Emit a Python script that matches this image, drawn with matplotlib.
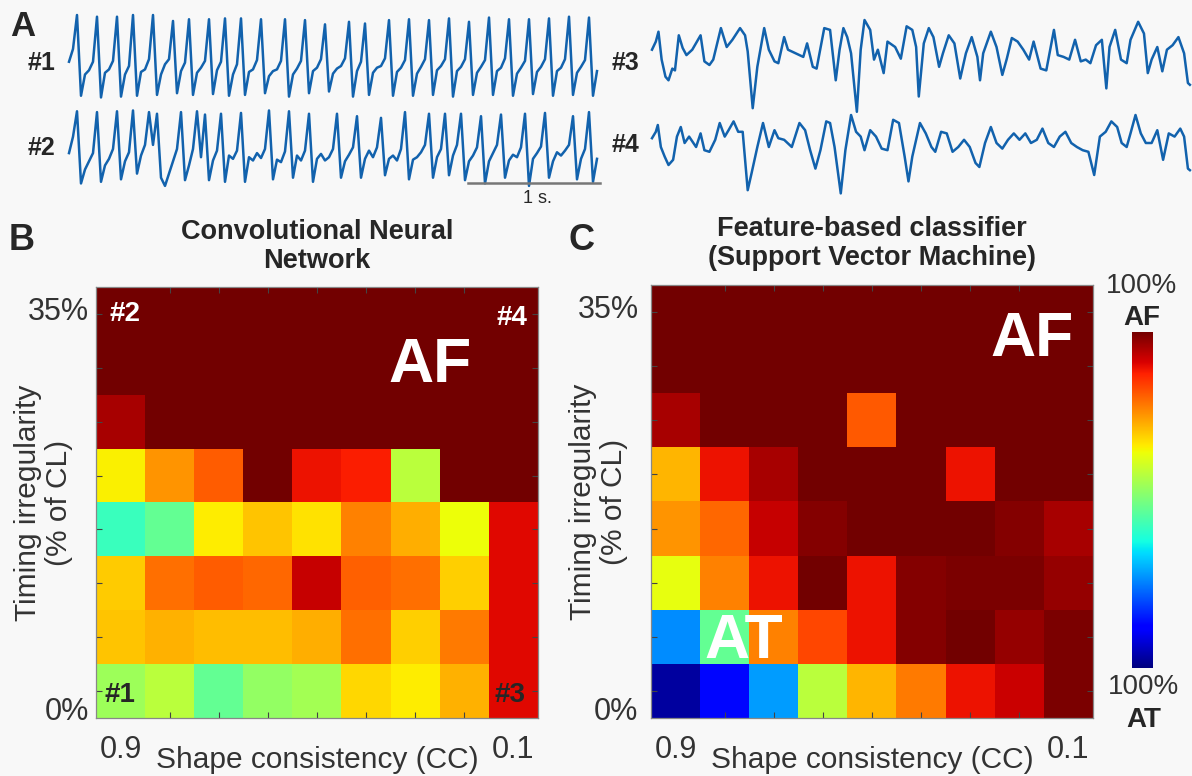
import numpy as np
import matplotlib.pyplot as plt
from matplotlib.colors import ListedColormap

plt.rcParams['font.family'] = ['Liberation Sans', 'DejaVu Sans']

# ---- data -------------------------------------------------------------
# panel A traces (arbitrary amplitude units, 0 = trough, 10 = peak)
dt = 1000 / 33  # ms between samples of #1 and #2
trace1 = [4.5, 6, 10, 0.5, 3.0, 3.5, 4.5, 9.8, 0.3, 3.2, 3.6, 4.6, 9.8, 0.4, 3.0, 4.0,
          10, 0.5, 3.3, 3.6, 4.8, 10, 0.6, 3.0, 4.2, 4.8, 9.3, 0.8, 3.4, 4.4, 9.5, 0.6,
          3.2, 3.8, 4.6, 9.5, 0.7, 3.5, 4.5, 9.6, 0.5, 3.0, 4.2, 9.6, 0.6, 3.3, 3.6, 4.7,
          9.5, 0.8, 2.8, 3.4, 3.6, 4.6, 9.5, 0.4, 3.0, 3.7, 4.6, 9.4, 0.8, 3.4, 3.8, 4.8,
          8.9, 1.0, 3.1, 3.7, 4.0, 4.9, 9.2, 0.4, 3.4, 4.5, 9.0, 0.6, 3.2, 3.8, 4.0, 4.9,
          9.4, 0.5, 3.3, 3.8, 4.7, 9.5, 0.5, 3.1, 3.9, 4.8, 9.4, 0.6, 3.5, 4.0, 4.8, 9.6,
          0.4, 3.4, 3.9, 4.8, 9.2, 0.6, 3.2, 3.9, 4.7, 9.7, 0.6, 3.4, 3.8, 4.9, 9.5, 0.5,
          3.1, 3.8, 4.6, 9.5, 0.7, 3.3, 3.9, 4.8, 9.6, 0.5, 3.4, 3.8, 4.8, 9.8, 0.6, 3.2,
          3.9, 4.7, 9.7, 0.5, 3.4]
trace2 = [4.5, 6.5, 9.6, 0.8, 2.5, 3.5, 4.5, 9.5, 1.0, 3.0, 3.8, 5.0, 9.6, 1.3, 3.5, 4.6,
          9.7, 2.0, 4.2, 5.5, 9.5, 5.5, 9.3, 1.5, 0.5, 2.0, 3.5, 5.0, 9.5, 1.2, 3.0, 5.0,
          9.6, 4.0, 9.2, 1.2, 3.6, 4.8, 9.3, 1.0, 4.2, 3.8, 4.8, 9.4, 1.0, 4.0, 3.6, 4.5,
          3.9, 5.0, 9.7, 1.3, 3.7, 3.4, 4.7, 9.6, 1.5, 4.2, 3.6, 4.8, 9.3, 1.0, 3.8, 4.4,
          3.6, 4.0, 5.0, 9.3, 1.5, 3.5, 4.3, 5.2, 9.0, 1.5, 3.8, 4.8, 4.0, 5.2, 8.8, 1.8,
          3.8, 4.2, 3.6, 5.0, 9.5, 1.3, 3.7, 4.0, 4.6, 5.5, 9.3, 1.5, 4.0, 5.0, 9.3, 1.8,
          4.2, 5.5, 9.3, 1.2, 3.5, 4.2, 5.2, 9.0, 0.8, 3.5, 4.5, 5.5, 9.2, 1.5, 3.6, 4.3,
          4.0, 5.2, 9.3, 0.5, 3.8, 4.5, 5.3, 9.4, 1.5, 3.5, 4.6, 4.2, 4.8, 5.5, 9.0, 1.3,
          3.8, 5.0, 9.5, 1.0, 3.8]
trace3_t = [0, 29, 49, 73, 102, 125, 154, 174, 203, 232, 261, 305, 368, 397, 435, 464,
            522, 566, 609, 667, 705, 725, 763, 798, 850, 885, 928, 957, 1001, 1030, 1088,
            1146, 1175, 1218, 1247, 1305, 1349, 1392, 1421, 1450, 1479, 1508, 1552, 1581,
            1610, 1653, 1682, 1711, 1755, 1784, 1842, 1885, 1929, 1972, 2001, 2021, 2059,
            2097, 2132, 2175, 2204, 2248, 2291, 2335, 2378, 2422, 2465, 2485, 2509, 2567,
            2610, 2654, 2688, 2726, 2770, 2813, 2857, 2891, 2944, 2987, 3045, 3074, 3118,
            3161, 3205, 3248, 3286, 3321, 3364, 3408, 3442, 3466, 3509, 3553, 3596, 3625,
            3683, 3727, 3756, 3785, 3828, 3866, 3901, 3944, 3988, 4031, 4060, 4075]
trace3_v = [6.7, 7.6, 8.7, 5.6, 3.7, 3.3, 4.6, 4.4, 8.3, 6.9, 6.1, 6.7, 8.3, 5.4, 5.0, 5.6,
            9.1, 7.0, 7.8, 9.1, 8.3, 6.5, 0.2, 4.8, 9.1, 6.7, 5.4, 5.2, 8.1, 6.7, 6.3,
            5.9, 7.4, 4.8, 4.6, 9.1, 8.9, 3.3, 6.7, 9.1, 8.1, 6.3, -0.2, 6.7,
            10.0, 8.9, 5.6, 6.7, 4.1, 7.6, 7.0, 5.7, 9.3, 8.9, 7.0, 1.5, 7.4,
            9.1, 8.1, 4.8, 6.3, 8.3, 7.4, 3.5, 6.3, 8.1, 5.9, 3.3, 6.3, 8.7,
            7.0, 3.9, 5.7, 8.0, 7.6, 6.7, 5.6, 7.6, 4.6, 4.4, 8.9, 6.1, 5.9,
            5.6, 7.8, 5.4, 5.6, 5.2, 7.2, 7.8, 2.4, 7.0, 8.9, 5.6, 5.2, 7.8,
            9.8, 8.5, 4.1, 5.6, 7.0, 4.3, 6.7, 7.2, 8.1, 6.3, 3.0, 2.8]
trace4_t = [0, 29, 44, 67, 96, 125, 160, 189, 218, 247, 281, 334, 368, 397, 435, 479,
            513, 551, 580, 618, 653, 687, 725, 754, 798, 841, 885, 928, 957, 1001, 1059,
            1117, 1160, 1198, 1238, 1276, 1320, 1349, 1383, 1430, 1465, 1508, 1546, 1581,
            1610, 1653, 1697, 1740, 1784, 1827, 1871, 1914, 1943, 1972, 2030, 2074, 2117,
            2146, 2190, 2233, 2277, 2320, 2364, 2407, 2451, 2480, 2523, 2567, 2610, 2654,
            2697, 2741, 2784, 2828, 2871, 2915, 2958, 3002, 3045, 3089, 3132, 3176, 3219,
            3263, 3306, 3350, 3393, 3437, 3480, 3524, 3558, 3596, 3625, 3663, 3703, 3741,
            3785, 3828, 3872, 3915, 3959, 4002, 4031, 4060, 4075]
trace4_v = [7.1, 7.9, 8.75, 6.0, 4.8, 3.75, 4.4, 7.3, 8.5, 6.5, 7.3, 6.0, 7.7, 5.6, 5.4, 6.9,
            9.0, 7.3, 8.1, 9.2, 7.9, 7.9, 0.6, 2.7, 6.0, 9.0, 6.0, 8.1, 7.1, 6.9, 6.0,
            9.0, 8.1, 5.6, 3.3, 5.6, 9.2, 9.0, 6.0, 0.2, 5.6, 10.0, 7.9, 7.3,
            5.6, 8.1, 7.3, 5.8, 5.6, 9.4, 9.0, 4.8, 1.7, 4.8, 9.0, 7.7, 6.0,
            5.4, 7.9, 7.7, 5.4, 6.0, 6.9, 6.0, 4.0, 3.5, 6.5, 8.5, 6.5, 5.8,
            6.9, 7.7, 6.9, 7.7, 6.5, 6.9, 8.3, 6.5, 6.0, 7.3, 7.9, 6.5, 6.0,
            5.6, 5.4, 2.5, 7.3, 7.9, 9.2, 8.5, 6.5, 6.0, 7.7, 10.0, 7.7, 6.5,
            6.5, 8.1, 4.4, 7.7, 7.3, 8.3, 7.3, 3.3, 3.1]

# panels B/C: probability of AF (0 = 100% AT, 1 = 100% AF), rows from 35% down to 0%
cc_labels = ['0.9', '0.1']
timing_labels = ['0%', '35%']
cnn = [
    [1, 1, 1, 1, 1, 1, 1, 1, 1],
    [1, 1, 1, 1, 1, 1, 1, 1, 1],
    [0.95, 1, 1, 1, 1, 1, 1, 1, 1],
    [0.655, 0.75, 0.81, 1, 0.89, 0.875, 0.575, 1, 1],
    [0.42, 0.47, 0.66, 0.70, 0.67, 0.77, 0.725, 0.64, 0.90],
    [0.695, 0.79, 0.81, 0.80, 0.925, 0.805, 0.79, 0.69, 0.90],
    [0.70, 0.72, 0.71, 0.71, 0.725, 0.79, 0.69, 0.78, 0.90],
    [0.54, 0.575, 0.47, 0.53, 0.55, 0.68, 0.66, 0.72, 0.90],
]
svm = [
    [1, 1, 1, 1, 1, 1, 1, 1, 1],
    [1, 1, 1, 1, 1, 1, 1, 1, 1],
    [0.95, 1, 1, 1, 0.8125, 1, 1, 1, 1],
    [0.7175, 0.89, 0.95, 1, 1, 1, 0.89, 1, 1],
    [0.75, 0.797, 0.925, 0.984, 1, 1, 1, 0.984, 0.95],
    [0.63, 0.7725, 0.89, 1, 0.89, 0.984, 0.99, 0.99, 0.968],
    [0.265, 0.47, 0.7725, 0.835, 0.89, 0.984, 1, 0.968, 0.99],
    [0.03, 0.13, 0.28, 0.575, 0.7175, 0.78, 0.89, 0.92, 0.99],
]

# ---- figure -----------------------------------------------------------
W, H = 1192, 776
bg = '#f8f8f8'
fig = plt.figure(figsize=(W / 100, H / 100), dpi=100, facecolor=bg)


def px_axes(x0, y0, x1, y1):
    return fig.add_axes([x0 / W, 1 - y1 / H, (x1 - x0) / W, (y1 - y0) / H])


blue = '#1262ad'
txt = '#262626'

# jet, with the AF end a little darker as in the original figure
jet = plt.get_cmap('jet')(np.linspace(0, 1, 256))
pos = np.linspace(0, 1, 256)
top = pos > 0.875
jet[top, 0] = 1 - (pos[top] - 0.875) / 0.125 * 0.55
cmap = ListedColormap(jet)

# panel A
trace_boxes = [(69, 15, 601, 100), (69, 108, 601, 190), (652, 20, 1190, 110), (652, 115, 1190, 195)]
series = [
    (np.arange(len(trace1)) * dt, trace1),
    (np.arange(len(trace2)) * dt, trace2),
    (trace3_t, trace3_v),
    (trace4_t, trace4_v),
]
trace_axes = []
for box, (t, v) in zip(trace_boxes, series):
    ax = px_axes(*box)
    ax.plot(t, v, color=blue, lw=1.8, clip_on=False)
    ax.set_xlim(0, (box[2] - box[0]) / 0.132)
    ax.set_ylim(0, 10)
    ax.axis('off')
    trace_axes.append(ax)

# scale bar (1 s) under trace #2
ax2 = trace_axes[1]
ax2.plot([3023, 4023], [0.85, 0.85], color='#777777', lw=1.8, clip_on=False)
ax2.text(3545, -1.0, '1 s.', ha='center', va='center', fontsize=13, color=txt)

fig.text(10 / W, 1 - 27 / H, 'A', fontsize=25, fontweight='bold', color=txt, va='center')
for name, x, y in [('#1', 42, 63), ('#2', 42, 148), ('#3', 626, 63), ('#4', 626, 145)]:
    fig.text(x / W, 1 - y / H, name, fontsize=18, fontweight='bold', color=txt,
             ha='center', va='center')


# panels B and C
def heat_panel(box, data, title, ypad):
    ax = px_axes(*box)
    ax.imshow(np.array(data), cmap=cmap, vmin=0, vmax=1, origin='upper',
              extent=(-0.5, 8.5, -0.5, 7.5), aspect='auto', interpolation='nearest')
    ax.set_xticks([0, 8])
    ax.set_xticklabels(cc_labels)
    ax.set_yticks([-0.33, 7.1])
    ax.set_yticklabels(timing_labels)
    ax.set_xticks(range(9), minor=True)
    ax.set_yticks(range(8), minor=True)
    ax.tick_params(which='major', length=0, labelsize=22, labelcolor='#333333')
    ax.tick_params(axis='x', which='major', pad=12)
    ax.tick_params(axis='y', which='major', pad=ypad)
    ax.tick_params(which='minor', direction='in', length=4, width=0.8, color='#444444',
                   top=True, right=True)
    for s in ax.spines.values():
        s.set_color('#888888')
        s.set_linewidth(0.9)
    ax.text(0.5, -0.098, 'Shape consistency (CC)', transform=ax.transAxes, ha='center',
            va='center', fontsize=21.5, color='#333333')
    ax.text(-0.118, 0.5, 'Timing irregularity\n(% of CL)', transform=ax.transAxes,
            rotation=90, ha='center', va='center', fontsize=21.5, color='#333333',
            linespacing=1.15)
    ax.text(0.5, 1.095, title, transform=ax.transAxes, ha='center', va='center',
            fontsize=19.5, fontweight='bold', color=txt, linespacing=1.15)
    return ax


axB = heat_panel((96, 287, 538, 718), cnn, 'Convolutional Neural\nNetwork', 5)
axC = heat_panel((651, 285, 1093, 718), svm, 'Feature-based classifier\n(Support Vector Machine)', 9)

fig.text(22 / W, 1 - 241 / H, 'B', fontsize=26, fontweight='bold', color=txt, ha='center', va='center')
fig.text(582 / W, 1 - 241 / H, 'C', fontsize=26, fontweight='bold', color=txt, ha='center', va='center')

# annotations inside heatmaps
for x, y, s, c, fs in [(125, 314, '#2', 'white', 20), (512, 318, '#4', 'white', 20),
                       (120, 695, '#1', txt, 20), (510, 695, '#3', txt, 20),
                       (430, 365, 'AF', 'white', 45), (1032, 339, 'AF', 'white', 45),
                       (744, 641, 'AT', 'white', 45)]:
    fig.text(x / W, 1 - y / H, s, fontsize=fs, fontweight='bold', color=c,
             ha='center', va='center')

# colorbar
cax = px_axes(1132, 332, 1153, 668)
cax.imshow(np.linspace(1, 0, 256).reshape(-1, 1), cmap=cmap, aspect='auto',
           extent=(0, 1, 0, 1))
cax.axis('off')
fig.text(1142 / W, 1 - 286 / H, '100%', fontsize=20, color='#333333', ha='center', va='center')
fig.text(1142 / W, 1 - 318 / H, 'AF', fontsize=20, fontweight='bold', color=txt, ha='center', va='center')
fig.text(1144 / W, 1 - 687 / H, '100%', fontsize=20, color='#333333', ha='center', va='center')
fig.text(1144 / W, 1 - 720 / H, 'AT', fontsize=20, fontweight='bold', color=txt, ha='center', va='center')

fig.savefig('out.png', dpi=100, facecolor=bg)
